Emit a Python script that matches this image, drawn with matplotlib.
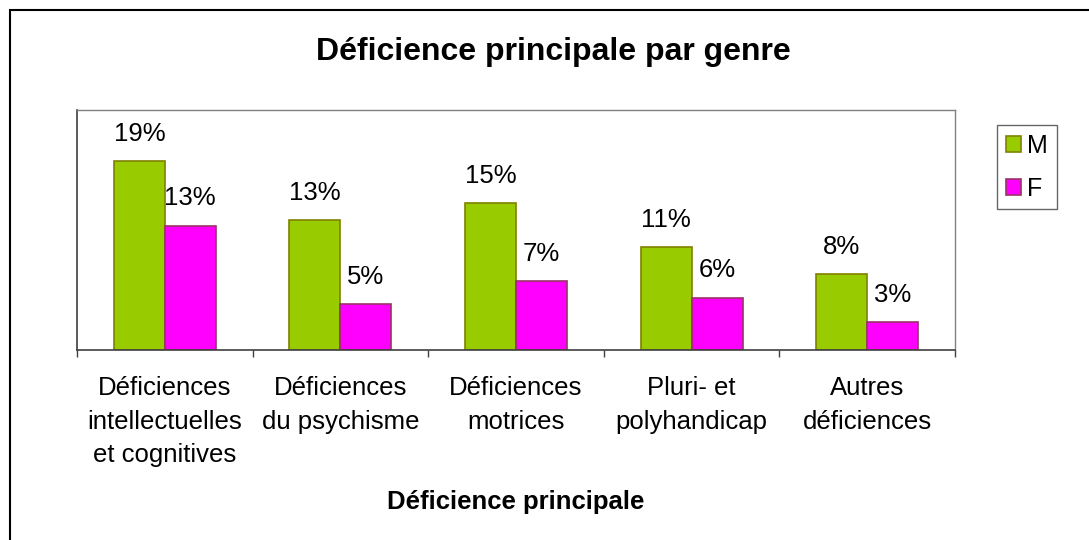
import numpy as np
import matplotlib
matplotlib.use("Agg")
import matplotlib.pyplot as plt
from matplotlib.patches import Rectangle

plt.rcParams['font.family'] = ['Liberation Sans', 'DejaVu Sans']

# data (heights in %, labels as printed)
categories = ["Déficiences\nintellectuelles\net cognitives",
              "Déficiences\ndu psychisme",
              "Déficiences\nmotrices",
              "Pluri- et\npolyhandicap",
              "Autres\ndéficiences"]
values_m = [19.4, 13.4, 15.1, 10.6, 7.8]
values_f = [12.8, 4.7, 7.1, 5.4, 2.9]
labels_m = ["19%", "13%", "15%", "11%", "8%"]
labels_f = ["13%", "5%", "7%", "6%", "3%"]
series = ["M", "F"]

fig = plt.figure(figsize=(10.89, 5.40), dpi=100)
ax = fig.add_axes([77 / 1089, 1 - 350 / 540, (955 - 77) / 1089, 240 / 540])

x = np.arange(len(categories))
w = 0.29
bars_m = ax.bar(x - w / 2, values_m, w, color='#99CC00', edgecolor='#808000',
                linewidth=1.2, label=series[0])
bars_f = ax.bar(x + w / 2, values_f, w, color='#FF00FF', edgecolor='#993366',
                linewidth=1.2, label=series[1])

for bars, labs in [(bars_m, labels_m), (bars_f, labels_f)]:
    for b, lab in zip(bars, labs):
        ax.annotate(lab, (b.get_x() + b.get_width() / 2, b.get_height()),
                    xytext=(0, 11), textcoords='offset points',
                    ha='center', va='bottom', fontsize=18.5)

ax.set_xlim(-0.5, len(categories) - 0.5)
ax.set_ylim(0, 24.7)
ax.set_yticks([])

# ticks at category boundaries, labels at centers
ax.set_xticks(np.arange(len(categories) + 1) - 0.5)
ax.set_xticklabels([])
ax.tick_params(axis='x', which='major', direction='out', length=5,
               width=1, color='#404040')
ax.set_xticks(x, minor=True)
ax.set_xticklabels(categories, minor=True, fontsize=18.5, linespacing=1.5)
ax.tick_params(axis='x', which='minor', length=0, pad=19)

ax.set_xlabel("Déficience principale", fontsize=18.5, fontweight='bold',
              labelpad=16)

for s in ['left', 'bottom']:
    ax.spines[s].set_color('#404040')
    ax.spines[s].set_linewidth(1.2)
for s in ['top', 'right']:
    ax.spines[s].set_color('#808080')
    ax.spines[s].set_linewidth(1)

fig.text(553 / 1089, 1 - 52 / 540, "Déficience principale par genre",
         ha='center', va='center', fontsize=23, fontweight='bold')

leg = fig.legend(handles=[bars_m, bars_f], labels=series,
                 loc='upper left', bbox_to_anchor=(997 / 1089, 1 - 125 / 540),
                 fontsize=18, frameon=True, fancybox=False,
                 handlelength=0.6, handleheight=0.6, handletextpad=0.25,
                 borderpad=0.35, labelspacing=0.75, borderaxespad=0)
leg.get_frame().set_edgecolor('#404040')
leg.get_frame().set_linewidth(1)

# outer chart border
fig.patches.append(Rectangle((10 / 1089, -0.1), 1.2, 1 - 10 / 540 + 0.1,
                             transform=fig.transFigure, fill=False,
                             edgecolor='black', linewidth=1.5))

fig.savefig("out.png", dpi=100)
